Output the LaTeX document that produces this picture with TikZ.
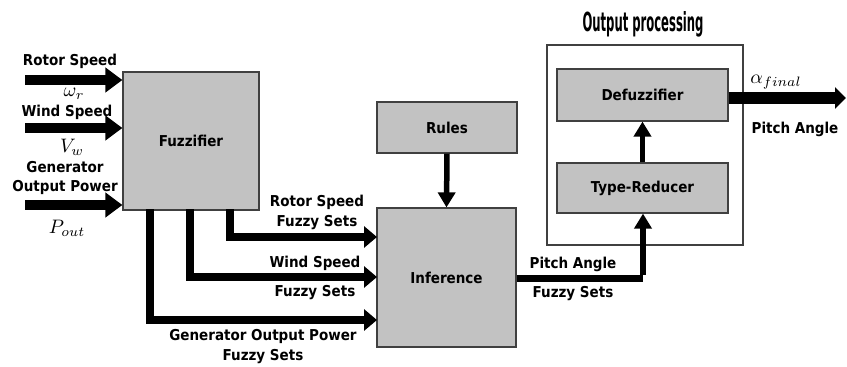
\documentclass[tikz,border=0pt]{standalone}
\usepackage{fontspec}
\setmainfont{DejaVu Sans Condensed}
\usetikzlibrary{arrows.meta}
% math labels drawn larger than the body size
\newcommand{\symlabel}[1]{\scalebox{1.95}{$#1$}}
\begin{document}
\begin{tikzpicture}[x=1pt,y=-1pt,
  block/.style={draw=black!75,line width=1.2pt,fill=black!24,inner sep=0pt,
    font=\fontsize{15}{18}\selectfont\bfseries},
  frame/.style={draw=black!75,line width=1.2pt,fill=white,inner sep=0pt},
  lbl/.style={inner sep=0pt,text height=10.8pt,text depth=0pt,
    font=\fontsize{15}{18}\selectfont\bfseries},
  sym/.style={inner sep=0pt},
  inarrow/.style={line width=10pt,-{Triangle[length=17pt,width=24pt]}},
  setarrow/.style={line width=8pt,-{Triangle[length=13pt,width=21pt]}},
  thinarrow/.style={line width=5.5pt,-{Triangle[length=15pt,width=17pt]}},
  outarrow/.style={line width=12pt,-{Triangle[length=11pt,width=21pt]}},
  pipe/.style={line width=7pt}]
\useasboundingbox (0,0) rectangle (847,367);

% blocks
\node[block,minimum width=136pt,minimum height=138pt] (fuzz) at (191,141) {Fuzzifier};
\node[block,minimum width=140pt,minimum height=51pt] (rules) at (447,127.5) {Rules};
\node[block,minimum width=139pt,minimum height=139pt] (infer) at (446.5,277.5) {Inference};
\node[frame,minimum width=196pt,minimum height=200pt] (outbox) at (645,145) {};
\node[block,minimum width=171pt,minimum height=52pt] (defuzz) at (642.5,95) {Defuzzifier};
\node[block,minimum width=171pt,minimum height=50pt] (tred) at (642.5,188) {Type-Reducer};

% title of the output stage
\node[inner sep=0pt,anchor=base] (title) at (643,31)
  {\resizebox{121pt}{20pt}{\bfseries Output processing}};

% crisp inputs
\coordinate (in1) at (25,80);
\coordinate (in2) at (25,128);
\coordinate (in3) at (25,205);
\draw[inarrow] (in1) -- (fuzz.west |- in1);
\draw[inarrow] (in2) -- (fuzz.west |- in2);
\draw[inarrow] (in3) -- (fuzz.west |- in3);

\node[lbl] (l1) at (70,60.5) {Rotor Speed};
\node[sym] (s1) at (74,94) {\symlabel{\omega_r}};
\node[lbl] (l2) at (67,111) {Wind Speed};
\node[sym] (s2) at (72,147) {\symlabel{V_w}};
\node[lbl] (l3) at (65,167) {Generator};
\node[lbl] (l4) at (65,186) {Output Power};
\node[sym] (s3) at (67,228) {\symlabel{P_{out}}};

% fuzzy sets from the fuzzifier to the inference engine
\coordinate (f1) at (230,209);
\coordinate (f2) at (190,209);
\coordinate (f3) at (150,209);
\coordinate (i1) at (377,237);
\coordinate (i2) at (377,277);
\coordinate (i3) at (377,320);
\draw[setarrow] (f1) |- (i1);
\draw[setarrow] (f2) |- (i2);
\draw[setarrow] (f3) |- (i3);

\node[lbl] (l5) at (317,201.5) {Rotor Speed};
\node[lbl] (l6) at (317,221.5) {Fuzzy Sets};
\node[lbl] (l7) at (315,262) {Wind Speed};
\node[lbl] (l8) at (315,291.5) {Fuzzy Sets};
\node[lbl] (l9) at (263,335) {Generator Output Power};
\node[lbl] (l10) at (263,355) {Fuzzy Sets};

% rule base
\draw[thinarrow] (rules.south) -- (infer.north);

% output fuzzy set to the type reducer
\coordinate (bend) at (643,278);
\draw[pipe] (infer.east |- bend) -- (bend);
\draw[thinarrow] ([yshift=3.5pt]bend) -- (tred.south -| bend);
\node[lbl] (l11) at (573,263) {Pitch Angle};
\node[lbl] (l12) at (573,292) {Fuzzy Sets};

% type reducer to defuzzifier
\draw[thinarrow] (tred.north) -- (defuzz.south);

% crisp output
\coordinate (out) at (846,98);
\draw[outarrow] (defuzz.east |- out) -- (out);
\node[sym] (s4) at (776,82) {\symlabel{\alpha_{final}}};
\node[lbl] (l13) at (795,128) {Pitch Angle};
\end{tikzpicture}
\end{document}
